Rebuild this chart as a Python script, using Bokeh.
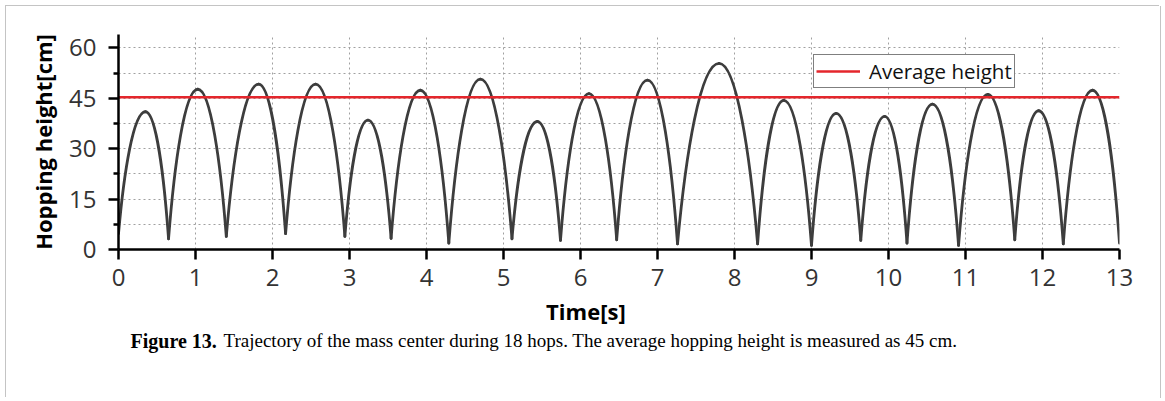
from bokeh.plotting import figure
from bokeh.layouts import column
from bokeh.models import (Range1d, FixedTicker, Legend, LegendItem, Label,
                          ColumnDataSource)
from bokeh.embed import file_html
from bokeh.resources import INLINE

# ---------------- data ----------------
trough_time = [0.00, 0.65, 1.40, 2.17, 2.94, 3.54, 4.29, 5.11, 5.74, 6.47,
               7.26, 8.30, 9.00, 9.64, 10.24, 10.91, 11.64, 12.27, 13.00]
trough_height = [4.7, 3.2, 3.9, 4.7, 3.9, 3.3, 1.9, 3.2, 2.7, 2.9,
                 1.7, 1.7, 1.2, 2.7, 1.9, 1.2, 2.9, 1.7, 1.9]
peak_time = [0.35, 1.03, 1.82, 2.56, 3.24, 3.92, 4.70, 5.44, 6.11, 6.87,
             7.80, 8.64, 9.32, 9.95, 10.57, 11.29, 11.95, 12.65]
peak_height = [41.0, 47.7, 49.2, 49.2, 38.5, 47.4, 50.7, 38.1, 46.4, 50.4,
               55.4, 44.4, 40.5, 39.6, 43.3, 46.2, 41.3, 47.4]
average_height = 45.3
time_span = [0, 13]
x_ticks = [0, 1, 2, 3, 4, 5, 6, 7, 8, 9, 10, 11, 12, 13]
y_ticks = [0, 15, 30, 45, 60]
y_minor_ticks = [7.5, 22.5, 37.5, 52.5]

# ---------------- arcs as cubic Bezier halves (flight phases) ----------------
rise = dict(x0=[], y0=[], x1=[], y1=[], cx0=[], cy0=[], cx1=[], cy1=[])
fall = dict(x0=[], y0=[], x1=[], y1=[], cx0=[], cy0=[], cx1=[], cy1=[])
for i in range(len(peak_time)):
    a, ya = trough_time[i], trough_height[i]
    pt, ph = peak_time[i], peak_height[i]
    b, yb = trough_time[i + 1], trough_height[i + 1]
    d = pt - a
    rise["x0"].append(a); rise["y0"].append(ya)
    rise["x1"].append(pt); rise["y1"].append(ph)
    rise["cx0"].append(a + 0.2 * d); rise["cy0"].append(ya + 0.5 * (ph - ya))
    rise["cx1"].append(pt - 0.45 * d); rise["cy1"].append(ph)
    d = b - pt
    fall["x0"].append(pt); fall["y0"].append(ph)
    fall["x1"].append(b); fall["y1"].append(yb)
    fall["cx0"].append(pt + 0.45 * d); fall["cy0"].append(ph)
    fall["cx1"].append(b - 0.2 * d); fall["cy1"].append(yb + 0.5 * (ph - yb))

SANS = "Open Sans"
SERIF = "Liberation Serif"
W = 1154
LEFT, RIGHT = 112, 41

p = figure(width=W, height=288,
           x_range=Range1d(0, 13), y_range=Range1d(0, 64),
           output_backend="svg", toolbar_location=None,
           min_border_left=LEFT, min_border_right=RIGHT,
           min_border_top=28, min_border_bottom=45,
           background_fill_color="white", border_fill_color="white",
           outline_line_color=None)

# grid
for g in (p.xgrid, p.ygrid):
    g.grid_line_color = "#a0a0a0"
    g.grid_line_dash = "2 3"
    g.grid_line_width = 1
p.xgrid.ticker = FixedTicker(ticks=x_ticks)
p.ygrid.ticker = FixedTicker(ticks=y_ticks, minor_ticks=y_minor_ticks)
p.ygrid.minor_grid_line_color = "#a0a0a0"
p.ygrid.minor_grid_line_dash = "2 3"
p.ygrid.minor_grid_line_width = 1

# axes
p.xaxis.ticker = FixedTicker(ticks=x_ticks)
p.yaxis.ticker = FixedTicker(ticks=y_ticks, minor_ticks=y_minor_ticks)
for ax in (p.xaxis[0], p.yaxis[0]):
    ax.axis_line_color = "black"
    ax.axis_line_width = 2.5
    ax.major_tick_line_color = "black"
    ax.major_tick_line_width = 2.5
    ax.major_tick_out = 10
    ax.major_tick_in = 0
    ax.major_label_text_font = SANS
    ax.major_label_text_font_size = "24px"
    ax.major_label_text_color = "#333333"
p.xaxis.minor_tick_line_color = None
p.yaxis.minor_tick_line_color = "black"
p.yaxis.minor_tick_line_width = 2.5
p.yaxis.minor_tick_out = 5
p.yaxis.minor_tick_in = 0
p.xaxis.major_label_standoff = 9
p.yaxis.major_label_standoff = 12

p.yaxis.axis_label = "Hopping height[cm]"
p.yaxis.axis_label_text_font = SANS
p.yaxis.axis_label_text_font_style = "bold"
p.yaxis.axis_label_text_font_size = "22px"
p.yaxis.axis_label_text_color = "black"
p.yaxis.axis_label_standoff = 8

# trajectory
curve_style = dict(line_color="#3d3d3d", line_width=2.8, line_cap="round")
p.bezier(source=ColumnDataSource(rise), x0="x0", y0="y0", x1="x1", y1="y1",
         cx0="cx0", cy0="cy0", cx1="cx1", cy1="cy1", **curve_style)
p.bezier(source=ColumnDataSource(fall), x0="x0", y0="y0", x1="x1", y1="y1",
         cx0="cx0", cy0="cy0", cx1="cx1", cy1="cy1", **curve_style)

# average line
avg_r = p.line(x=time_span, y=[average_height, average_height],
               line_color="#e4262c", line_width=2.5)

legend = Legend(items=[LegendItem(label="Average height", renderers=[avg_r])],
                location=(695, 161), orientation="vertical",
                label_text_font=SANS, label_text_font_size="20.5px",
                label_text_color="#111111",
                glyph_width=44, glyph_height=20, label_height=20,
                label_standoff=9,
                padding=2, spacing=0, margin=0,
                border_line_color="black", border_line_width=1.5,
                background_fill_color="white", background_fill_alpha=1)
p.add_layout(legend)

# ---------------- lower strip: x-axis title and caption ----------------
c = figure(width=W, height=104, x_range=p.x_range, y_range=Range1d(104, 0),
           output_backend="svg", toolbar_location=None,
           min_border_left=LEFT, min_border_right=RIGHT,
           min_border_top=0, min_border_bottom=0,
           x_axis_location=None, y_axis_location=None,
           background_fill_color="white", border_fill_color="white",
           outline_line_color=None)
c.xgrid.visible = False
c.ygrid.visible = False

c.add_layout(Label(x=6.07, y=16, text="Time[s]", text_font=SANS,
                   text_font_style="bold", text_font_size="22px",
                   text_color="black", text_align="center",
                   text_baseline="middle"))
cap_y = 46
c.add_layout(Label(x=0.156, y=cap_y, text="Figure 13.",
                   text_font=SERIF, text_font_style="bold",
                   text_font_size="20px", text_color="black",
                   text_align="left", text_baseline="middle"))
c.add_layout(Label(x=1.364, y=cap_y,
                   text="Trajectory of the mass center during 18 hops. "
                        "The average hopping height is measured as 45 cm.",
                   text_font=SERIF, text_font_size="19px",
                   text_color="black", text_align="left",
                   text_baseline="middle"))

layout = column(p, c, spacing=0,
                styles={"position": "relative", "left": "6px", "top": "6px",
                        "box-shadow": "-1px -1px 0 0 #c4c4c4, 1px 0 0 0 #c4c4c4"})

open("out.html", "w").write(file_html(layout, INLINE))
